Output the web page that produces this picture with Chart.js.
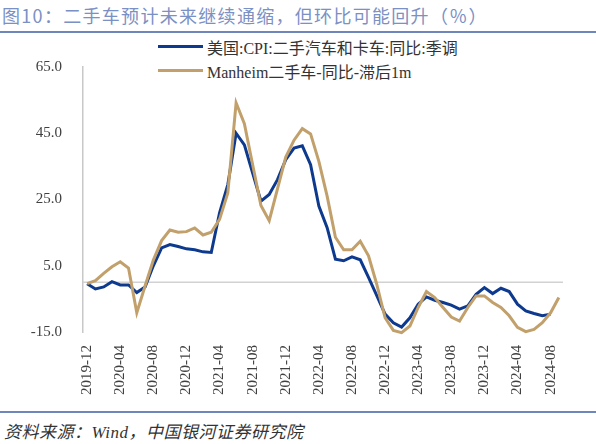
<!DOCTYPE html>
<html>
<head>
<meta charset="utf-8">
<script src="https://cdn.jsdelivr.net/npm/chart.js@4"></script>
<style>
    body { margin: 0; background: #fff; }
    #wrap { position: relative; width: 596px; height: 444px; overflow: hidden; }
    #title {
        position: absolute; left: 2px; top: 2px;
        font-family: "Noto Sans CJK SC", sans-serif; font-size: 18px;
        color: #7b90c4; white-space: nowrap; letter-spacing: 1.3px;
    }
    .rule { position: absolute; left: 0; width: 596px; height: 2px; background: #6f86bb; }
    #legend { position: absolute; left: 158px; top: 35px; }
    .item { position: absolute; left: 0; height: 20px; white-space: nowrap; }
    .swatch { position: absolute; left: 0; top: 10px; width: 45px; height: 3px; }
    .label {
        position: absolute; left: 49px; top: 0;
        font-family: "Liberation Serif", "Noto Sans CJK SC", serif; font-size: 16px; color: #333;
    }
    #source {
        position: absolute; left: 4px; top: 418px;
        font-family: "Liberation Serif", "Noto Sans CJK SC", serif; font-size: 17px;
        font-style: italic; color: #333; white-space: nowrap; letter-spacing: 0.5px;
    }
    canvas { position: absolute; left: 0; top: 36px; }
</style>
</head>
<body>
<div id="wrap">
    <div id="title">图10：二手车预计未来继续通缩，但环比可能回升（％）</div>
    <div class="rule" style="top:31px"></div>
    <div id="legend"></div>
    <canvas id="usedCarChart" width="596" height="374"></canvas>
    <div class="rule" style="top:411px"></div>
    <div id="source">资料来源：Wind，中国银河证券研究院</div>
</div>
<script>
// Months, 2019-12 to 2024-09
const months = [
    '2019-12',
    '2020-01', '2020-02', '2020-03', '2020-04', '2020-05', '2020-06',
    '2020-07', '2020-08', '2020-09', '2020-10', '2020-11', '2020-12',
    '2021-01', '2021-02', '2021-03', '2021-04', '2021-05', '2021-06',
    '2021-07', '2021-08', '2021-09', '2021-10', '2021-11', '2021-12',
    '2022-01', '2022-02', '2022-03', '2022-04', '2022-05', '2022-06',
    '2022-07', '2022-08', '2022-09', '2022-10', '2022-11', '2022-12',
    '2023-01', '2023-02', '2023-03', '2023-04', '2023-05', '2023-06',
    '2023-07', '2023-08', '2023-09', '2023-10', '2023-11', '2023-12',
    '2024-01', '2024-02', '2024-03', '2024-04', '2024-05', '2024-06',
    '2024-07', '2024-08', '2024-09'
];

// US CPI used cars & trucks, YoY, SA (%)
const cpiUsedCars = [
    -0.4,
    -2.0, -1.4, 0.2, -0.8, -0.8, -3.1,
    -1.4, 5.0, 10.4, 11.4, 10.8, 10.1,
    9.8, 9.2, 9.0, 21.0, 29.5, 45.0,
    41.5, 33.0, 24.5, 26.5, 31.0, 37.0,
    40.5, 41.2, 35.5, 23.0, 16.5, 7.0,
    6.5, 7.7, 6.8, 1.5, -4.0, -9.6,
    -12.2, -13.5, -10.7, -6.6, -4.4, -5.4,
    -6.1, -6.9, -8.1, -7.1, -3.6, -1.6,
    -3.4, -1.8, -2.8, -6.6, -8.6, -9.4,
    -10.1, -9.6, null
];

// Manheim used vehicle index, YoY, lagged 1 month (%)
const manheimLag1m = [
    -0.4,
    0.5, 2.7, 4.7, 6.2, 4.3, -9.2,
    -1.1, 6.7, 12.6, 15.8, 15.1, 15.3,
    16.4, 14.3, 15.1, 19.0, 27.0, 54.2,
    47.9, 35.5, 23.2, 18.6, 28.2, 37.8,
    42.9, 46.4, 44.8, 36.5, 26.0, 13.6,
    9.8, 9.8, 12.4, 8.0, -0.6, -10.7,
    -14.5, -15.2, -13.2, -7.6, -2.8, -4.6,
    -7.6, -10.5, -11.7, -7.6, -4.1, -4.1,
    -6.1, -7.6, -10.1, -13.6, -14.9, -14.2,
    -12.2, -9.2, -4.6
];

const seriesNames = ['美国:CPI:二手汽车和卡车:同比:季调', 'Manheim二手车-同比-滞后1m'];
const seriesColors = ['#0d3a8e', '#c1a06c'];

// Y axis ticks
const yMin = -15;
const yMax = 65;
const yStep = 20;

// Build the legend
function buildLegend() {
    const legend = document.getElementById('legend');
    seriesNames.forEach((name, i) => {
        const item = document.createElement('div');
        item.className = 'item';
        item.style.top = (i * 24) + 'px';
        item.innerHTML = `<div class="swatch" style="background:${seriesColors[i]}"></div><div class="label">${name}</div>`;
        legend.appendChild(item);
    });
}

// Gray line at zero
const zeroLine = {
    id: 'zeroLine',
    beforeDatasetsDraw(chart) {
        const { ctx, chartArea, scales } = chart;
        const y = scales.y.getPixelForValue(0);
        ctx.save();
        ctx.strokeStyle = '#d2d2d2';
        ctx.lineWidth = 1.5;
        ctx.beginPath();
        ctx.moveTo(chartArea.left, y);
        ctx.lineTo(chartArea.right, y);
        ctx.stroke();
        ctx.restore();
    }
};

function makeChart() {
    const ctx = document.getElementById('usedCarChart').getContext('2d');
    const tickFont = { family: '"Liberation Serif", serif', size: 15 };

    new Chart(ctx, {
        type: 'line',
        data: {
            labels: months,
            datasets: [
                {
                    label: seriesNames[0],
                    data: cpiUsedCars,
                    borderColor: seriesColors[0],
                    borderWidth: 3,
                    pointRadius: 0,
                    tension: 0,
                    order: 2
                },
                {
                    label: seriesNames[1],
                    data: manheimLag1m,
                    borderColor: seriesColors[1],
                    borderWidth: 3,
                    pointRadius: 0,
                    tension: 0,
                    order: 1,
                    clip: false
                }
            ]
        },
        options: {
            responsive: false,
            animation: false,
            devicePixelRatio: 1,
            layout: {
                padding: { top: 31, right: 33, bottom: 2, left: 0 }
            },
            scales: {
                y: {
                    min: yMin,
                    max: yMax,
                    grid: { display: false, drawTicks: false },
                    border: { display: true, color: '#c8c8c8', width: 1.5 },
                    ticks: {
                        stepSize: yStep,
                        padding: 21,
                        color: '#404040',
                        font: tickFont,
                        callback: function(value) {
                            return value.toFixed(1);
                        }
                    },
                    afterFit: function(scale) {
                        scale.width = 83;
                    }
                },
                x: {
                    offset: true,
                    grid: { display: false, drawTicks: false },
                    border: { display: false },
                    ticks: {
                        autoSkip: false,
                        maxRotation: 90,
                        minRotation: 90,
                        padding: 13,
                        color: '#404040',
                        font: tickFont,
                        callback: function(value, index) {
                            return index % 4 === 0 ? months[index] : null;
                        }
                    }
                }
            },
            plugins: {
                legend: { display: false },
                tooltip: { enabled: false }
            }
        },
        plugins: [zeroLine]
    });
}

buildLegend();
makeChart();
</script>
</body>
</html>
